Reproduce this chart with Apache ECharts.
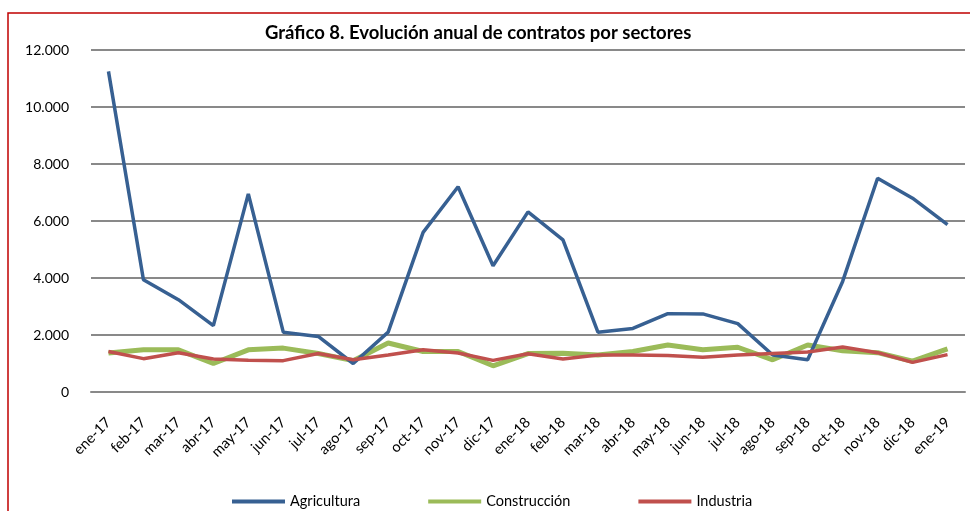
<!DOCTYPE html>
<html><head><meta charset="utf-8">
<script src="https://cdn.jsdelivr.net/npm/echarts@6/dist/echarts.min.js"></script>
<style>html,body{margin:0;padding:0;background:#fff}#c{width:970px;height:511px}</style>
</head><body><div id="c"></div>
<script>
var categories = ['ene-17','feb-17','mar-17','abr-17','may-17','jun-17','jul-17','ago-17','sep-17','oct-17','nov-17','dic-17','ene-18','feb-18','mar-18','abr-18','may-18','jun-18','jul-18','ago-18','sep-18','oct-18','nov-18','dic-18','ene-19'];
var agricultura = [11250,3940,3240,2330,6950,2100,1950,1000,2100,5600,7200,4430,6320,5340,2100,2230,2750,2740,2400,1300,1130,3880,7500,6800,5870];
var construccion = [1370,1480,1480,1000,1480,1540,1350,1100,1720,1420,1420,920,1350,1360,1300,1420,1650,1480,1570,1130,1650,1450,1380,1080,1510];
var industria = [1420,1170,1380,1160,1110,1100,1350,1130,1300,1480,1370,1110,1340,1160,1300,1300,1280,1220,1300,1350,1400,1580,1380,1040,1310];
var yTicks = {min:0, max:12000, interval:2000};
var titleText = 'Gráfico 8. Evolución anual de contratos por sectores';
var seriesNames = ['Agricultura','Construcción','Industria'];

var font = 'Lato, "Open Sans", sans-serif';
var chart = echarts.init(document.getElementById('c'), null, {renderer:'canvas'});
chart.setOption({
  animation:false,
  textStyle:{fontFamily:font},
  title:{text:titleText, left:260, top:19, textStyle:{fontFamily:font, fontSize:18.5, fontWeight:'bold', color:'#000'}},
  graphic:[{type:'rect', shape:{x:8, y:13, width:3000, height:3000}, style:{fill:'none', stroke:'#C00000', lineWidth:1.5}, silent:true, z:-1}],
  grid:{left:91, right:5, top:50, bottom:119, containLabel:false},
  legend:{left:227, top:489, itemWidth:53, itemHeight:4, itemGap:68,
    textStyle:{fontFamily:font, fontSize:14.5, color:'#000'},
    data:seriesNames.map(function(n){return {name:n, icon:'rect'};})},
  xAxis:{type:'category', data:categories, boundaryGap:true,
    axisLine:{show:true, lineStyle:{color:'#898989', width:2}}, axisTick:{show:false},
    axisLabel:{rotate:45, margin:28, fontSize:14.5, color:'#000', fontFamily:font, interval:0}},
  yAxis:{type:'value', min:yTicks.min, max:yTicks.max, interval:yTicks.interval,
    axisLine:{show:false}, axisTick:{show:false},
    splitLine:{lineStyle:{color:'#898989', width:2}},
    axisLabel:{margin:22, fontSize:14, color:'#000', fontFamily:font,
      formatter:function(v){return v===0?'0':v.toLocaleString('de-DE');}}},
  series:[
    {name:seriesNames[0], type:'line', data:agricultura, symbol:'none', lineStyle:{color:'#376092', width:3.5}, itemStyle:{color:'#376092'}, z:3},
    {name:seriesNames[1], type:'line', data:construccion, symbol:'none', lineStyle:{color:'#9BBB59', width:5}, itemStyle:{color:'#9BBB59'}, z:2},
    {name:seriesNames[2], type:'line', data:industria, symbol:'none', lineStyle:{color:'#C0504D', width:3.5}, itemStyle:{color:'#C0504D'}, z:4}
  ]
});
</script></body></html>
